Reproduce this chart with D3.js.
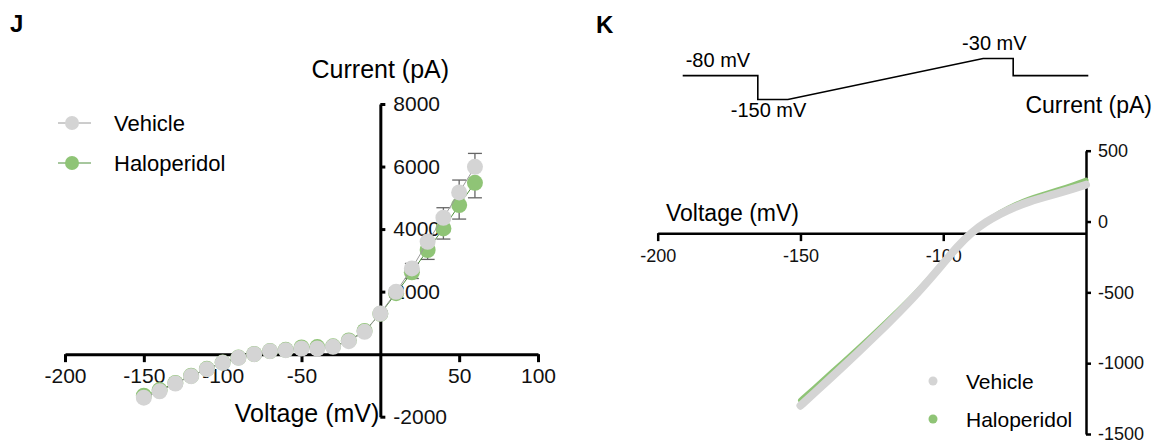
<!DOCTYPE html>
<html>
<head>
<meta charset="utf-8">
<script src="https://cdn.jsdelivr.net/npm/d3@7"></script>
<style>
  body { margin: 0; background: #fff; }
  svg { font-family: "Liberation Sans", Arial, sans-serif; }
  .axis path, .axis line { stroke: #000; stroke-width: 3; }
  .axisK path, .axisK line { stroke: #000; stroke-width: 2.5; }
</style>
</head>
<body>
<svg id="chart" width="1156" height="444"></svg>
<script>
// ---- panel J: I-V steps ----
const jVoltage = [-150, -140, -130, -120, -110, -100, -90, -80, -70, -60, -50,
                  -40, -30, -20, -10, 0, 10, 20, 30, 40, 50, 60];
const jVehicle = [-1390, -1190, -939, -704, -480, -277, -117, 0, 96, 128, 181,
                  181, 235, 416, 715, 1301, 1995, 2741, 3595, 4363, 5173, 5990];
const jVehicleSem = [60, 55, 50, 45, 40, 35, 30, 25, 25, 25, 25,
                     30, 30, 40, 60, 80, 110, 160, 230, 320, 395, 430];
const jHalo = [-1330, -1150, -920, -690, -470, -270, -110, 5, 100, 140, 215,
               225, 250, 440, 740, 1290, 1950, 2620, 3330, 4021, 4768, 5480];
const jHaloSem = [60, 55, 50, 45, 40, 35, 30, 25, 25, 25, 25,
                  30, 30, 40, 60, 80, 120, 200, 300, 340, 448, 480];
const jXTicks = [-200, -150, -100, -50, 50, 100];
const jYTicks = [-2000, 2000, 4000, 6000, 8000];

// ---- panel K: ramp I-V ----
const kVoltage = [-150, -145, -140, -135, -130, -125, -120, -115, -110, -105, -100,
                  -95, -90, -85, -80, -75, -70, -65, -60, -55, -50];
const kVehicle = [-1300, -1208, -1115, -1022, -927, -831, -733, -632, -527, -415, -296,
                  -175, -75, -2, 55, 103, 140, 170, 198, 228, 260];
const kHalo = [-1262, -1172, -1081, -991, -898, -805, -710, -613, -513, -405, -293,
               -180, -80, 0, 66, 118, 160, 192, 222, 255, 292];
const kXTicks = [-200, -150, -100];
const kYTicks = [-1500, -1000, -500, 0, 500];

// voltage protocol (time in ms, voltage in mV)
const protoTime = [0, 25, 25, 35, 100, 110, 110, 135];
const protoVolt = [-80, -80, -150, -150, -30, -30, -80, -80];
const protoLabels = [
  { text: "-80 mV", t: 1, v: -80, dy: -9 },
  { text: "-150 mV", t: 16, v: -150, dy: 17 },
  { text: "-30 mV", t: 93, v: -30, dy: -9 }
];

const series = ["Vehicle", "Haloperidol"];
const grey = "#d4d4d4";
const green = "#8fc476";
const plain = d => String(d);

const svg = d3.select("#chart");

// panel letters
svg.append("text").attr("x", 10).attr("y", 32).attr("font-size", 24)
  .attr("font-weight", "bold").text("J");
svg.append("text").attr("x", 596).attr("y", 33).attr("font-size", 24)
  .attr("font-weight", "bold").text("K");

// ================= panel J =================
const xJ = d3.scaleLinear().domain([-200, 100]).range([65, 538]);
const yJ = d3.scaleLinear().domain([-2000, 8000]).range([416.7, 104]);

const gJx = svg.append("g").attr("class", "axis")
  .attr("transform", `translate(0,${yJ(0)})`)
  .call(d3.axisBottom(xJ).tickValues(jXTicks).tickFormat(plain)
    .tickSize(8).tickSizeOuter(0).tickPadding(6));
gJx.selectAll("text").attr("font-size", 21).attr("fill", "#111")
  .attr("font-family", "Liberation Sans, Arial, sans-serif");

const gJy = svg.append("g").attr("class", "axis")
  .attr("transform", `translate(${xJ(0)},0)`)
  .call(d3.axisRight(yJ).tickValues(jYTicks).tickFormat(plain)
    .tickSize(5).tickSizeOuter(0).tickPadding(8));
gJy.selectAll("text").attr("font-size", 21).attr("fill", "#111")
  .attr("font-family", "Liberation Sans, Arial, sans-serif");

svg.append("text").attr("x", xJ(0)).attr("y", 78).attr("text-anchor", "middle")
  .attr("font-size", 25).text("Current (pA)");
svg.append("text").attr("x", xJ(0) - 1).attr("y", 422).attr("text-anchor", "end")
  .attr("font-size", 25).text("Voltage (mV)");

const jLine = d3.line().x(d => xJ(d[0])).y(d => yJ(d[1]));

function drawJSeries(vals, sem, colour, lineColour, up) {
  const pts = jVoltage.map((v, i) => [v, vals[i], sem[i]]);
  // error bars (one-sided)
  const eb = svg.append("g").attr("stroke", "#666").attr("stroke-width", 1.3);
  pts.forEach(p => {
    const yEnd = yJ(up ? p[1] + p[2] : p[1] - p[2]);
    eb.append("line").attr("x1", xJ(p[0])).attr("x2", xJ(p[0]))
      .attr("y1", yJ(p[1])).attr("y2", yEnd);
    eb.append("line").attr("x1", xJ(p[0]) - 7).attr("x2", xJ(p[0]) + 7)
      .attr("y1", yEnd).attr("y2", yEnd);
  });
  svg.append("path").datum(pts).attr("d", jLine)
    .attr("fill", "none").attr("stroke", lineColour).attr("stroke-width", 1);
  svg.append("g").selectAll("circle").data(pts).join("circle")
    .attr("cx", d => xJ(d[0])).attr("cy", d => yJ(d[1])).attr("r", 8)
    .attr("fill", colour);
}
drawJSeries(jHalo, jHaloSem, green, "#4f8f3c", false);
drawJSeries(jVehicle, jVehicleSem, grey, "#9a9a9a", true);

// legend J
const legJ = svg.append("g");
series.forEach((name, i) => {
  const y = 123 + i * 40;
  const c = i === 0 ? grey : green;
  legJ.append("line").attr("x1", 58).attr("x2", 91).attr("y1", y).attr("y2", y)
    .attr("stroke", i === 0 ? "#9a9a9a" : "#4f8f3c").attr("stroke-width", 1);
  legJ.append("circle").attr("cx", 72).attr("cy", y).attr("r", 7).attr("fill", c);
  legJ.append("text").attr("x", 114).attr("y", y).attr("dy", "0.36em")
    .attr("font-size", 22).text(name);
});

// ================= panel K =================
const xK = d3.scaleLinear().domain([-200, -50]).range([657.7, 1086]);
const yK = d3.scaleLinear().domain([-1500, 500]).range([434, 150.7]);
const kCross = -82;

const gKx = svg.append("g").attr("class", "axisK")
  .attr("transform", `translate(0,${yK(kCross)})`)
  .call(d3.axisBottom(xK).tickValues(kXTicks).tickFormat(plain)
    .tickSize(8).tickSizeOuter(0).tickPadding(8));
gKx.selectAll("text").attr("font-size", 18).attr("fill", "#111")
  .attr("font-family", "Liberation Sans, Arial, sans-serif");

const gKy = svg.append("g").attr("class", "axisK")
  .attr("transform", `translate(${xK(-50)},0)`)
  .call(d3.axisRight(yK).tickValues(kYTicks).tickFormat(plain)
    .tickSize(5).tickSizeOuter(0).tickPadding(7));
gKy.selectAll("text").attr("font-size", 18).attr("fill", "#111")
  .attr("font-family", "Liberation Sans, Arial, sans-serif");

svg.append("text").attr("x", 666).attr("y", 221).attr("font-size", 23).text("Voltage (mV)");
svg.append("text").attr("x", 1152).attr("y", 113).attr("text-anchor", "end")
  .attr("font-size", 23).text("Current (pA)");

const kLine = d3.line().curve(d3.curveBasis).x(d => xK(d[0])).y(d => yK(d[1]));
svg.append("path").datum(kVoltage.map((v, i) => [v, kHalo[i]])).attr("d", kLine)
  .attr("fill", "none").attr("stroke", green).attr("stroke-width", 5)
  .attr("stroke-linecap", "round");
svg.append("path").datum(kVoltage.map((v, i) => [v, kVehicle[i]])).attr("d", kLine)
  .attr("fill", "none").attr("stroke", grey).attr("stroke-width", 8)
  .attr("stroke-linecap", "round");

// legend K
series.forEach((name, i) => {
  const y = 381 + i * 38;
  svg.append("circle").attr("cx", 933).attr("cy", y).attr("r", 4.5)
    .attr("fill", i === 0 ? grey : green);
  svg.append("text").attr("x", 966).attr("y", y).attr("dy", "0.36em")
    .attr("font-size", 21).text(name);
});

// voltage protocol sketch
const xP = d3.scaleLinear().domain([0, 135]).range([682.7, 1088.3]);
const yP = d3.scaleLinear().domain([-150, -30]).range([99.5, 58.5]);
svg.append("path")
  .datum(protoTime.map((t, i) => [t, protoVolt[i]]))
  .attr("d", d3.line().x(d => xP(d[0])).y(d => yP(d[1])))
  .attr("fill", "none").attr("stroke", "#000").attr("stroke-width", 1.6);
protoLabels.forEach(l => {
  svg.append("text").attr("x", xP(l.t)).attr("y", yP(l.v) + l.dy)
    .attr("font-size", 20).text(l.text);
});
</script>
</body>
</html>
